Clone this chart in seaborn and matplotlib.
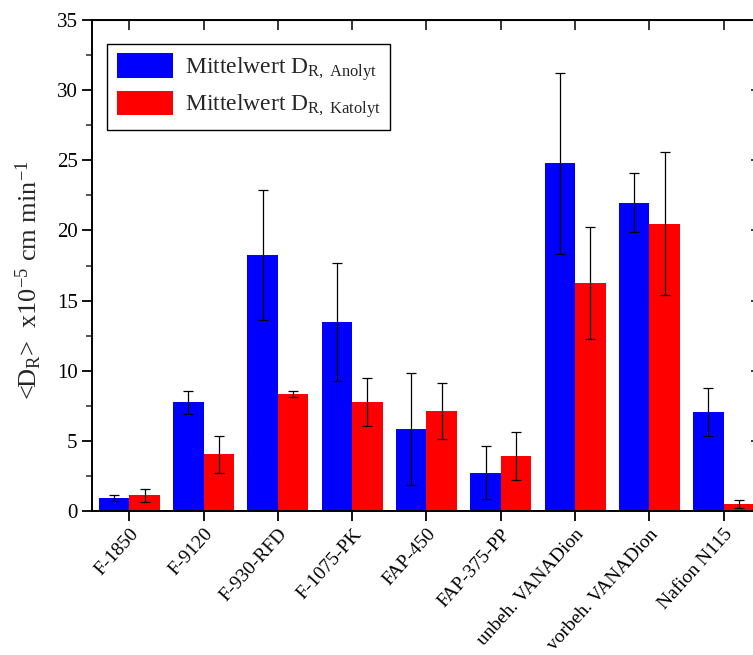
import matplotlib
matplotlib.use("Agg")
import matplotlib.pyplot as plt
from matplotlib.ticker import AutoMinorLocator
import seaborn as sns
import pandas as pd

# ---- data ----
categories = ["F-1850", "F-9120", "F-930-RFD", "F-1075-PK", "FAP-450",
              "FAP-375-PP", "unbeh. VANADion", "vorbeh. VANADion", "Nafion N115"]
series_names = ["Mittelwert D$_\\mathregular{R,\\ Anolyt}$",
                "Mittelwert D$_\\mathregular{R,\\ Katolyt}$"]
anolyt = [0.95, 7.75, 18.25, 13.45, 5.82, 2.73, 24.78, 21.96, 7.06]
anolyt_err = [0.22, 0.83, 4.6, 4.2, 4.0, 1.9, 6.45, 2.1, 1.7]
katolyt = [1.12, 4.04, 8.34, 7.75, 7.15, 3.92, 16.25, 20.47, 0.5]
katolyt_err = [0.45, 1.3, 0.18, 1.7, 2.0, 1.7, 4.0, 5.1, 0.26]
colors = ["#0000FF", "#FF0000"]
y_ticks = [0, 5, 10, 15, 20, 25, 30, 35]
y_label = "<D$_\\mathregular{R}$>  x10$^\\mathregular{-5}$ cm min$^\\mathregular{-1}$"

df = pd.DataFrame({
    "Membran": categories * 2,
    "Serie": [series_names[0]] * len(categories) + [series_names[1]] * len(categories),
    "Wert": anolyt + katolyt,
})
errors = [anolyt_err, katolyt_err]

sns.set_style("ticks")
plt.rcParams["font.family"] = ["Liberation Serif", "DejaVu Serif"]
plt.rcParams["mathtext.fontset"] = "custom"
plt.rcParams["mathtext.rm"] = "Liberation Serif"
plt.rcParams["mathtext.it"] = "Liberation Serif:italic"
plt.rcParams["mathtext.bf"] = "Liberation Serif:bold"

fig = plt.figure(figsize=(7.53, 6.55), dpi=100)
ax = fig.add_axes([0.1224, 0.2198, 0.888, 0.7497])

sns.barplot(data=df, x="Membran", y="Wert", hue="Serie", palette=colors,
            width=0.82, gap=0, saturation=1, errorbar=None, ax=ax,
            edgecolor="none", linewidth=0)

for cont, err in zip(ax.containers, errors):
    xs = [b.get_x() + b.get_width() / 2 for b in cont]
    hs = [b.get_height() for b in cont]
    ax.errorbar(xs, hs, yerr=err, fmt="none", ecolor="black",
                elinewidth=0.9, capsize=3.6, capthick=0.9, zorder=5)

ax.set_ylim(0, 35)
ax.set_xlim(-0.5, 8.5)
ax.set_yticks(y_ticks)
ax.yaxis.set_minor_locator(AutoMinorLocator(2))
ax.set_xlabel("")
ax.set_ylabel(y_label, fontsize=19)
ax.yaxis.set_label_coords(-0.072, 0.47)

for s in ax.spines.values():
    s.set_visible(True)
    s.set_linewidth(1.4)
    s.set_color("black")

ax.tick_params(axis="both", which="major", direction="out", length=7,
               width=1.3, labelsize=15, colors="black")
ax.tick_params(axis="x", labelsize=14)
ax.tick_params(axis="y", which="minor", direction="out", length=4, width=1.1)
ax.tick_params(axis="x", which="minor", bottom=False)
plt.setp(ax.get_xticklabels(), rotation=48, ha="right", rotation_mode="anchor")

# inward ticks on top and right
top = ax.secondary_xaxis("top")
top.set_xticks(range(len(categories)))
top.tick_params(direction="in", length=7, width=1.3, labeltop=False)
right = ax.secondary_yaxis("right")
right.set_yticks(y_ticks)
right.yaxis.set_minor_locator(AutoMinorLocator(2))
right.tick_params(which="major", direction="in", length=7, width=1.3, labelright=False)
right.tick_params(which="minor", direction="in", length=4, width=1.1, labelright=False)

handles, labels = ax.get_legend_handles_labels()
leg = ax.legend(handles, labels, loc="upper left", bbox_to_anchor=(0.0224, 0.951),
                borderaxespad=0, fontsize=17, frameon=True, fancybox=False,
                edgecolor="black", framealpha=1, handlelength=2.4,
                handleheight=1.2, handletextpad=0.5, labelspacing=0.35,
                borderpad=0.4)
leg.get_frame().set_linewidth(1.0)

fig.savefig("out.png", dpi=100)
